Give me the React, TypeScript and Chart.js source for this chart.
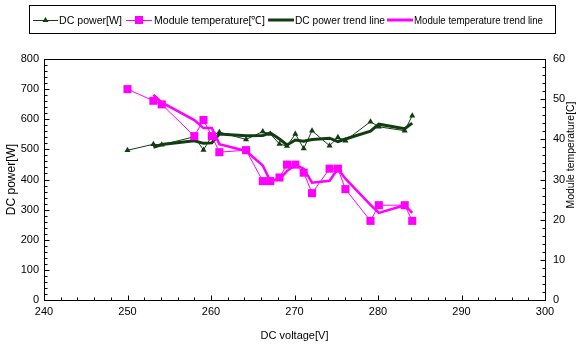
import { useEffect, useRef } from 'react';
import { Chart, registerables } from 'chart.js';

Chart.register(...registerables);

// Measured DC voltage [V] for each sample
const voltage = [250, 253.1, 254.1, 258, 259.1, 260.1, 261, 264.2, 266.2, 267.1, 268.2, 269.1, 270.1, 271.1, 272.1, 274.2, 275.2, 276.1, 279.1, 280.1, 283.2, 284.1];
// DC power [W]
const dcPower = [497, 517, 515, 542, 498, 545, 557, 533, 559, 551, 518, 511, 551, 503, 562, 512, 540, 529, 592, 575, 562, 612];
// Module temperature [°C]
const moduleTemp = [52.5, 49.6, 48.7, 40.8, 44.8, 40.8, 36.8, 37.3, 29.6, 29.6, 30.5, 33.7, 33.7, 31.7, 26.6, 32.7, 32.7, 27.6, 19.7, 23.6, 23.6, 19.7];

// Trend lines (two-point moving average), starting at the second sample
const trendVoltage = voltage.slice(1);
const powerTrend = [507, 516, 528.5, 520, 521.5, 551, 545, 546, 555, 534.5, 514.5, 531, 527, 532.5, 537, 526, 534.5, 560.5, 583.5, 568.5, 587];
const tempTrend = [51.1, 49.2, 44.8, 42.8, 42.8, 38.8, 37.1, 33.5, 29.6, 30.1, 32.1, 33.7, 32.7, 29.2, 29.7, 32.7, 30.2, 23.7, 21.7, 23.6, 21.7];

const legendLabels = ['DC power[W]', 'Module temperature[\u2103]', 'DC power trend line', 'Module temperature trend line'];
const xTitle = 'DC voltage[V]';
const yTitle = 'DC power[W]';
const y2Title = 'Module temperature[C]';

const GREEN = '#123d12';
const MAGENTA = '#ff00ff';
const FONT = '"Liberation Sans", Arial, sans-serif';

const pts = (xs: number[], ys: number[]) => xs.map((x, i) => ({ x, y: ys[i] }));

const decor = {
  id: 'decor',
  afterDraw(chart: any) {
    const { ctx, chartArea: a, scales } = chart;
    ctx.save();
    ctx.strokeStyle = '#000';
    ctx.lineWidth = 1;
    const L = Math.floor(a.left) + 0.5;
    const R = Math.floor(a.right) + 0.5;
    const T = Math.floor(a.top) + 0.5;
    const B = Math.floor(a.bottom) + 0.5;
    ctx.strokeRect(L, T, R - L, B - T);

    // inward tick marks, major + minor
    ctx.beginPath();
    const xs = scales.x;
    for (let v = xs.min; v <= xs.max + 1e-6; v += 2) {
      const p = Math.round(xs.getPixelForValue(v)) + 0.5;
      const len = Math.abs(v % 10) < 1e-6 ? 5 : 3;
      ctx.moveTo(p, B); ctx.lineTo(p, B - len);
    }
    const ys = scales.y;
    for (let v = ys.min; v <= ys.max + 1e-6; v += 20) {
      const p = Math.round(ys.getPixelForValue(v)) + 0.5;
      const len = Math.abs(v % 100) < 1e-6 ? 5 : 3;
      ctx.moveTo(L, p); ctx.lineTo(L + len, p);
    }
    const y2 = scales.y2;
    for (let v = y2.min; v <= y2.max + 1e-6; v += 2) {
      const p = Math.round(y2.getPixelForValue(v)) + 0.5;
      const len = Math.abs(v % 10) < 1e-6 ? 5 : 3;
      ctx.moveTo(R, p); ctx.lineTo(R - len, p);
    }
    ctx.stroke();

    // right axis title, reading bottom to top
    ctx.fillStyle = '#000';
    ctx.font = `11px ${FONT}`;
    ctx.textAlign = 'center';
    ctx.textBaseline = 'middle';
    ctx.save();
    ctx.translate(571, 155);
    ctx.rotate(-Math.PI / 2);
    ctx.fillText(y2Title, 0, 0, 107);
    ctx.restore();

    // legend box
    ctx.strokeRect(29.5, 5.5, 526, 28);
    const cy = 20;
    const items = [
      { x0: 33, x1: 58, color: GREEN, w: 1, marker: 'tri', tx: 59, tw: 63 },
      { x0: 126, x1: 152, color: MAGENTA, w: 1, marker: 'sq', tx: 154, tw: 111 },
      { x0: 268, x1: 294, color: GREEN, w: 3, marker: '', tx: 295, tw: 90 },
      { x0: 387, x1: 413, color: MAGENTA, w: 3, marker: '', tx: 414, tw: 129 },
    ];
    items.forEach((it, i) => {
      ctx.strokeStyle = it.color;
      ctx.lineWidth = it.w;
      ctx.beginPath();
      ctx.moveTo(it.x0, cy + (it.w === 1 ? 0.5 : 0));
      ctx.lineTo(it.x1, cy + (it.w === 1 ? 0.5 : 0));
      ctx.stroke();
      const mx = (it.x0 + it.x1) / 2;
      ctx.fillStyle = it.color;
      if (it.marker === 'tri') {
        ctx.beginPath();
        ctx.moveTo(mx, cy - 3);
        ctx.lineTo(mx + 3, cy + 2);
        ctx.lineTo(mx - 3, cy + 2);
        ctx.closePath();
        ctx.fill();
      } else if (it.marker === 'sq') {
        ctx.fillRect(mx - 4, cy - 4, 8, 8);
      }
      ctx.fillStyle = '#000';
      ctx.textAlign = 'left';
      ctx.fillText(legendLabels[i], it.tx, cy + 1, it.tw);
    });
    ctx.restore();
  },
};

export default function App() {
  const ref = useRef<HTMLCanvasElement | null>(null);

  useEffect(() => {
    if (!ref.current) return;
    Chart.defaults.font.family = FONT;
    Chart.defaults.font.size = 11;
    Chart.defaults.color = '#000';

    const noGrid = { display: false, drawTicks: false };

    const chart = new Chart(ref.current, {
      type: 'scatter',
      data: {
        datasets: [
          {
            label: legendLabels[1],
            data: pts(voltage, moduleTemp),
            yAxisID: 'y2',
            showLine: true,
            borderColor: MAGENTA,
            borderWidth: 1,
            backgroundColor: MAGENTA,
            pointStyle: 'rect',
            pointRadius: 5.7,
            pointBorderWidth: 0,
            order: 0,
          },
          {
            label: legendLabels[0],
            data: pts(voltage, dcPower),
            yAxisID: 'y',
            showLine: true,
            borderColor: GREEN,
            borderWidth: 1,
            backgroundColor: GREEN,
            pointStyle: 'triangle',
            pointRadius: 3.5,
            pointBorderWidth: 0,
            order: 1,
          },
          {
            label: legendLabels[3],
            data: pts(trendVoltage, tempTrend),
            yAxisID: 'y2',
            showLine: true,
            borderColor: MAGENTA,
            borderWidth: 2.5,
            pointRadius: 0,
            order: 2,
          },
          {
            label: legendLabels[2],
            data: pts(trendVoltage, powerTrend),
            yAxisID: 'y',
            showLine: true,
            borderColor: GREEN,
            borderWidth: 3,
            pointRadius: 0,
            order: 3,
          },
        ],
      },
      options: {
        animation: false,
        responsive: false,
        devicePixelRatio: 1,
        layout: { padding: { top: 59, left: 0, right: 0, bottom: 0 } },
        plugins: { legend: { display: false }, tooltip: { enabled: false } },
        scales: {
          x: {
            type: 'linear',
            min: 240,
            max: 300,
            ticks: { stepSize: 10, padding: 5 },
            grid: noGrid,
            border: { display: false },
            title: { display: true, text: xTitle, font: { size: 11 }, padding: { top: 2, bottom: 1 } },
            afterFit: (s: any) => { s.height = 44; },
          },
          y: {
            type: 'linear',
            position: 'left',
            min: 0,
            max: 800,
            ticks: { stepSize: 100, padding: 5 },
            grid: noGrid,
            border: { display: false },
            title: { display: true, text: yTitle, font: { size: 12 }, padding: { top: 4, bottom: 2 } },
            afterFit: (s: any) => { s.width = 44; },
          },
          y2: {
            type: 'linear',
            position: 'right',
            min: 0,
            max: 60,
            ticks: { stepSize: 10, padding: 8 },
            grid: noGrid,
            border: { display: false },
            afterFit: (s: any) => { s.width = 35; },
          },
        },
      },
      plugins: [decor],
    } as any);

    return () => chart.destroy();
  }, []);

  return (
    <div style={{ position: 'absolute', left: 0, top: 0, width: 580, height: 344, background: '#fff' }}>
      <canvas ref={ref} width={580} height={344} />
    </div>
  );
}
